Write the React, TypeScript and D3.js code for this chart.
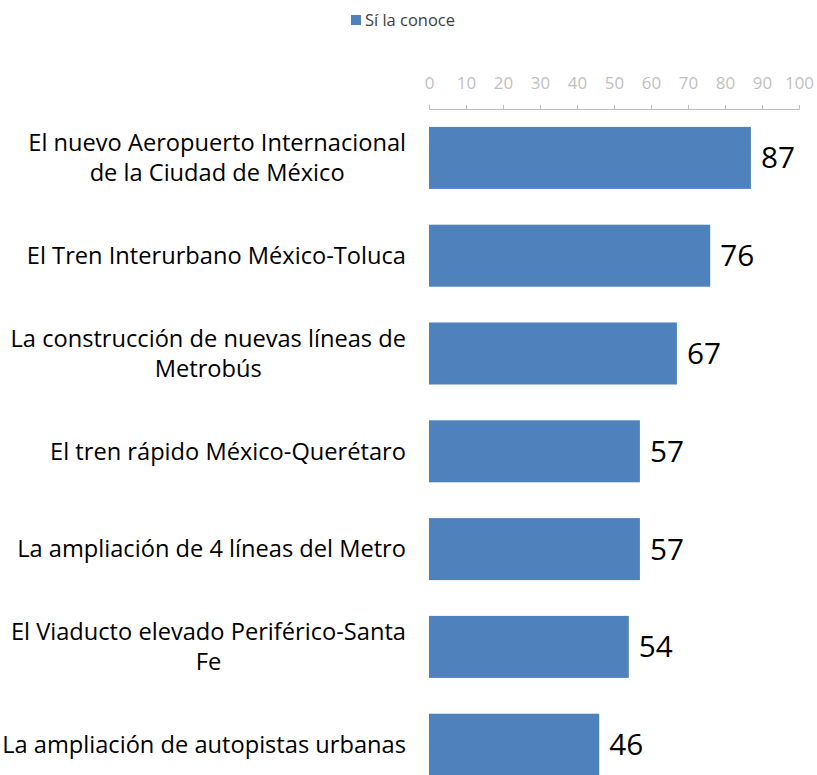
import React, { useEffect, useRef } from "react";
import * as d3 from "d3";

const categories: string[][] = [
  ["El nuevo Aeropuerto Internacional", "de la Ciudad de México"],
  ["El Tren Interurbano México-Toluca"],
  ["La construcción de nuevas líneas de", "Metrobús"],
  ["El tren rápido México-Querétaro"],
  ["La ampliación de 4 líneas del Metro"],
  ["El Viaducto elevado Periférico-Santa", "Fe"],
  ["La ampliación de autopistas urbanas"],
];
const values: number[] = [87, 76, 67, 57, 57, 54, 46];
const tickValues: number[] = [0, 10, 20, 30, 40, 50, 60, 70, 80, 90, 100];
const seriesName = "Sí la conoce";

const W = 817;
const H = 775;
const FONT = "'Open Sans', sans-serif";
const BAR = "#4f81bd";

// pick a font size so that a sample string has the target width
function fitSize(svg: any, sample: string, target: number, base: number): number {
  const t = svg.append("text").attr("font-family", FONT).attr("font-size", base).text(sample);
  const w = (t.node() as SVGTextElement).getComputedTextLength();
  t.remove();
  return w > 0 ? (base * target) / w : base;
}

export default function App() {
  const ref = useRef<SVGSVGElement | null>(null);
  useEffect(() => {
    const svg = d3.select(ref.current);
    svg.selectAll("*").remove();
    const x = d3.scaleLinear().domain([0, 100]).range([429, 799]);
    const ids = categories.map((_, i) => String(i));
    const y = d3.scaleBand<string>().domain(ids).range([109, 109 + 7 * 97.8]).paddingInner(0.366).paddingOuter(0.183);

    const legendSize = fitSize(svg, seriesName, 90, 17);
    const tickSize = fitSize(svg, "100", 29, 16);
    const valueSize = fitSize(svg, "87", 34, 24);
    const labelSize = fitSize(svg, categories[0][0], 378, 21);

    // legend
    svg.append("rect").attr("x", 351).attr("y", 15).attr("width", 10).attr("height", 10).attr("fill", BAR);
    svg.append("text").attr("x", 365).attr("y", 20).attr("dy", "0.35em").attr("font-family", FONT).attr("font-size", legendSize)
      .attr("fill", "#404040").text(seriesName);

    // axis
    const ax = svg.append("g").attr("transform", "translate(0,109)")
      .call(d3.axisTop(x).tickValues(tickValues).tickSize(4).tickSizeOuter(4).tickPadding(16));
    ax.select(".domain").attr("stroke", "#bfbfbf");
    ax.selectAll(".tick line").attr("stroke", "#bfbfbf");
    ax.selectAll(".tick text").attr("font-family", FONT).attr("font-size", tickSize).attr("fill", "#bfbfbf");

    // bars
    svg.append("g").selectAll("rect").data(values).join("rect")
      .attr("x", x(0)).attr("y", (_, i) => y(String(i))!)
      .attr("width", (d) => x(d) - x(0)).attr("height", y.bandwidth()).attr("fill", BAR);

    // value labels
    svg.append("g").selectAll("text").data(values).join("text")
      .attr("x", (d) => x(d) + 10).attr("y", (_, i) => y(String(i))! + y.bandwidth() / 2)
      .attr("dy", "0.35em").attr("font-family", FONT).attr("font-size", valueSize).attr("fill", "#000")
      .text((d) => d);

    // category labels
    const right = 406;
    const lh = 30;
    categories.forEach((lines, i) => {
      const cy = y(String(i))! + y.bandwidth() / 2;
      const g = svg.append("g");
      const texts = lines.map((l, j) =>
        g.append("text").attr("font-family", FONT).attr("font-size", labelSize).attr("fill", "#000")
          .attr("y", cy + (j - (lines.length - 1) / 2) * lh).attr("dy", "0.35em").text(l)
      );
      const widths = texts.map((t) => (t.node() as SVGTextElement).getComputedTextLength());
      const maxW = Math.max(...widths);
      const center = right - maxW / 2;
      texts.forEach((t) => t.attr("x", center).attr("text-anchor", "middle"));
    });
  }, []);
  return (
    <svg ref={ref} width={W} height={H} style={{ position: "absolute", left: 0, top: 0, background: "#fff" }} />
  );
}
